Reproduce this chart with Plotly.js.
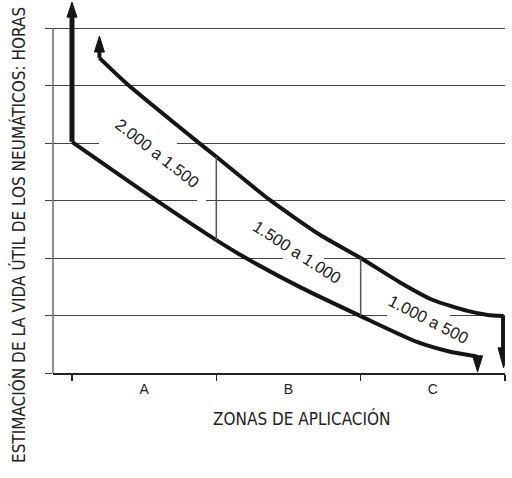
<!DOCTYPE html>
<html><head><meta charset="utf-8">
<script src="https://cdn.plot.ly/plotly-3.0.1.min.js"></script>
<style>html,body{margin:0;padding:0;background:#fff}#chart{width:512px;height:478px}</style>
</head><body><div id="chart"></div>
<script>
// ---- data (x: zone units, A=0..1, B=1..2, C=2..3; y: grid levels) ----
const zones = ['A', 'B', 'C'];
const zoneCenters = [0.5, 1.5, 2.5];
const zoneBounds = [0, 1, 2, 3];
const levels = [0, 1, 2, 3, 4, 5, 6];

const upperX = [0.19, 0.38, 0.87, 1.0, 1.37, 1.72, 2.0, 2.27, 2.5, 2.74, 2.88, 2.99];
const upperY = [5.48, 5.03, 4.02, 3.76, 3.01, 2.40, 2.0, 1.58, 1.27, 1.08, 1.01, 0.99];

const lowerX = [0, 0.58, 1.0, 1.19, 1.59, 2.0, 2.39, 2.62, 2.78, 2.81];
const lowerY = [4.02, 3.01, 2.31, 2.02, 1.48, 0.99, 0.54, 0.37, 0.30, 0.28];

const leftArrowX = [0, 0];       const leftArrowY = [4.02, 6.45];
const upStartArrowX = [0.19, 0.19]; const upStartArrowY = [5.48, 5.86];
const upEndArrowX = [2.99, 2.99];   const upEndArrowY = [0.99, 0.09];
const lowEndArrowX = [2.81, 2.81];  const lowEndArrowY = [0.28, 0.02];

const dividerX = [1, 2];
const dividerLow = [2.31, 0.99];
const dividerHigh = [3.76, 2.0];

const rangeLabels = ['2.000 a 1.500', '1.500 a 1.000', '1.000 a 500'];

// ---- layout geometry ----
const W = 512, H = 478;
const M = {l: 53, r: 7, t: 0, b: 105};
const xRange = [-0.1316, 3.0];
const yRange = [0, 6.487];
const pxPerX = (W - M.l - M.r) / (xRange[1] - xRange[0]);
const pxPerY = (H - M.t - M.b) / (yRange[1] - yRange[0]);

const INK = '#151515';
const traces = [];

function line(xs, ys, w, color) {
  traces.push({type: 'scatter', mode: 'lines', x: xs, y: ys,
    line: {color: color || INK, width: w, shape: 'linear'}, hoverinfo: 'skip'});
}
function arrow(xs, ys, w, headLen, headWid) {
  const n = xs.length;
  const tx = xs[n - 1], ty = ys[n - 1];
  const dir = Math.sign(ty - ys[n - 2]);
  const by = ty - dir * headLen / pxPerY;
  const hw = headWid / 2 / pxPerX;
  if ((by - ys[0]) * dir > 0) line([xs[0], tx], [ys[0], by], w);
  traces.push({type: 'scatter', mode: 'lines', fill: 'toself', fillcolor: INK,
    x: [tx - hw, tx + hw, tx, tx - hw], y: [by, by, ty, by],
    line: {color: INK, width: 1}, hoverinfo: 'skip'});
}

// curves
traces.push({type: 'scatter', mode: 'lines', x: upperX, y: upperY,
  line: {color: INK, width: 4, shape: 'spline', smoothing: 0.6}, hoverinfo: 'skip'});
traces.push({type: 'scatter', mode: 'lines', x: lowerX, y: lowerY,
  line: {color: INK, width: 4, shape: 'spline', smoothing: 0.6}, hoverinfo: 'skip'});
// zone dividers between curves
for (let i = 0; i < dividerX.length; i++) {
  line([dividerX[i], dividerX[i]], [dividerLow[i], dividerHigh[i]], 1.5, '#555');
}
// arrows
arrow(leftArrowX, leftArrowY, 5, 15, 10);
arrow(upStartArrowX, upStartArrowY, 4, 16, 10);
arrow(upEndArrowX, upEndArrowY, 5, 20, 11);
arrow(lowEndArrowX, lowEndArrowY, 4, 16, 10);

const gapRect = (x0, x1, yv) => ({type: 'rect', layer: 'between', xref: 'x', yref: 'y',
  x0: x0, x1: x1, y0: yv - 0.04, y1: yv + 0.04, fillcolor: '#fff', line: {width: 0}});

const narrow = "'Liberation Sans Narrow', 'Arial Narrow', 'DejaVu Sans Condensed', sans-serif";
const reg = "'Liberation Sans', Arial, Helvetica, sans-serif";

const layout = {
  width: W, height: H, margin: M, showlegend: false,
  paper_bgcolor: '#fff', plot_bgcolor: '#fff',
  xaxis: {range: xRange, fixedrange: true, tickmode: 'array', tickvals: zoneCenters, ticktext: zones,
    ticks: '', showline: true, linecolor: '#222', linewidth: 1.5, showgrid: false, zeroline: false,
    tickfont: {family: reg, size: 14, color: '#222'}, ticklabelstandoff: 3,
    minor: {tickmode: 'array', tickvals: zoneBounds, ticks: 'outside', ticklen: 6,
      tickcolor: '#222', tickwidth: 1.5, showgrid: false}},
  yaxis: {range: yRange, fixedrange: true, tickmode: 'array', tickvals: levels, showticklabels: false,
    ticks: 'outside', ticklen: 7, tickcolor: '#444', tickwidth: 1,
    showgrid: true, gridcolor: '#444', gridwidth: 1, zeroline: false, showline: false},
  shapes: [
    {type: 'line', xref: 'paper', yref: 'y', x0: 0, x1: 0, y0: 0, y1: 6, line: {color: '#444', width: 1.2}},
    gapRect(0.187, 0.727, 4), gapRect(0.866, 0.928, 3), gapRect(1.462, 1.746, 2), gapRect(2.183, 2.619, 1)
  ],
  annotations: [
    {text: rangeLabels[0], x: 0.592, y: 3.826, xref: 'x', yref: 'y', showarrow: false, textangle: 38,
      font: {family: reg, size: 16.5, color: '#1a1a1a'}},
    {text: rangeLabels[1], x: 1.562, y: 2.113, xref: 'x', yref: 'y', showarrow: false, textangle: 33,
      font: {family: reg, size: 16.5, color: '#1a1a1a'}},
    {text: rangeLabels[2], x: 2.467, y: 0.939, xref: 'x', yref: 'y', showarrow: false, textangle: 27,
      font: {family: reg, size: 16.5, color: '#1a1a1a'}},
    {text: 'ZONAS DE APLICACIÓN', xref: 'paper', yref: 'paper', x: 0.551, y: -0.123,
      xanchor: 'center', yanchor: 'middle', showarrow: false, font: {family: narrow, size: 17, color: '#222'}},
    {text: 'ESTIMACIÓN DE LA VIDA ÚTIL DE LOS NEUMÁTICOS: HORAS', xref: 'paper', yref: 'paper',
      x: -0.0752, y: 0.370, xanchor: 'center', yanchor: 'middle', textangle: -90, showarrow: false,
      font: {family: narrow, size: 17, color: '#222'}}
  ]
};

Plotly.newPlot('chart', traces, layout, {staticPlot: true, displayModeBar: false});
</script>
</body></html>
